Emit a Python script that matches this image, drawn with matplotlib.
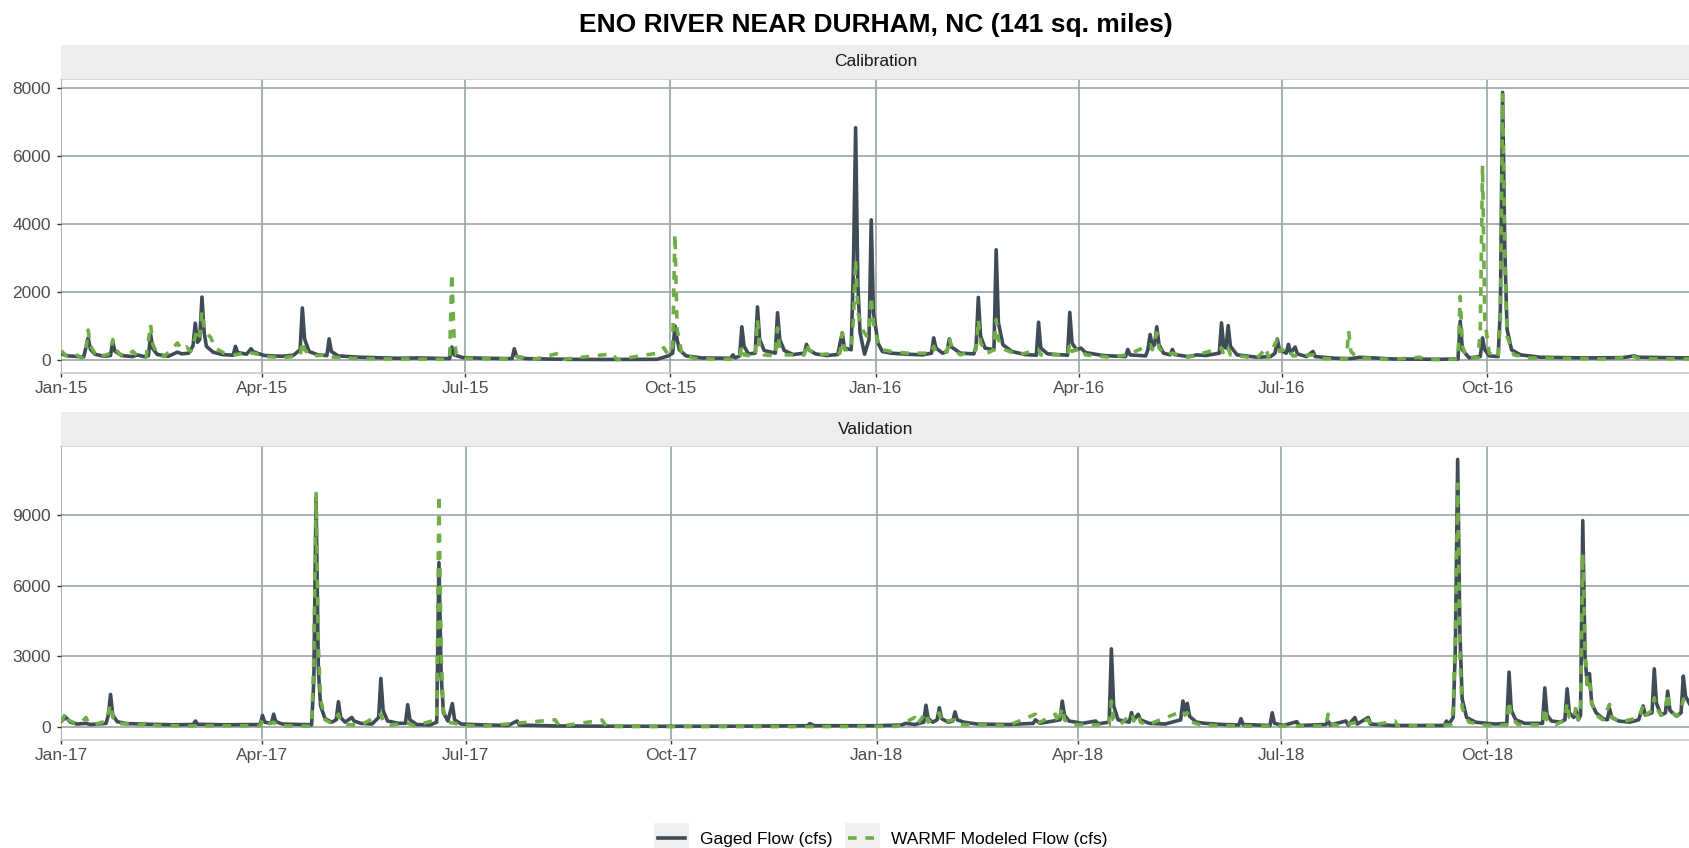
import matplotlib
matplotlib.use("Agg")
import matplotlib.pyplot as plt
import matplotlib.dates as mdates
import numpy as np
import pandas as pd
from matplotlib.patches import Rectangle
from matplotlib.legend_handler import HandlerLine2D

plt.rcParams['font.family'] = ['Liberation Sans', 'DejaVu Sans']

title = "ENO RIVER NEAR DURHAM, NC (141 sq. miles)"
panels = ["Calibration", "Validation"]
series_names = ["Gaged Flow (cfs)", "WARMF Modeled Flow (cfs)"]

# daily flow (cfs) at the turning points of each event
cal_gaged = [
    ("2015-01-01", 180), ("2015-01-04", 120), ("2015-01-11", 90), ("2015-01-13", 650), ("2015-01-14", 320),
    ("2015-01-16", 170), ("2015-01-20", 110), ("2015-01-23", 130), ("2015-01-24", 520), ("2015-01-25", 260),
    ("2015-01-28", 130), ("2015-02-02", 100), ("2015-02-04", 150), ("2015-02-07", 100), ("2015-02-09", 120),
    ("2015-02-10", 750), ("2015-02-11", 330), ("2015-02-13", 160), ("2015-02-18", 110), ("2015-02-22", 230),
    ("2015-02-24", 180), ("2015-02-27", 200), ("2015-03-01", 420), ("2015-03-02", 1080), ("2015-03-03", 520),
    ("2015-03-04", 600), ("2015-03-05", 1850), ("2015-03-06", 800), ("2015-03-07", 400), ("2015-03-10", 230),
    ("2015-03-14", 160), ("2015-03-19", 140), ("2015-03-20", 400), ("2015-03-21", 220), ("2015-03-25", 170),
    ("2015-03-27", 330), ("2015-03-28", 240), ("2015-04-02", 130), ("2015-04-10", 110), ("2015-04-15", 140),
    ("2015-04-18", 300), ("2015-04-19", 1530), ("2015-04-20", 620), ("2015-04-22", 250), ("2015-04-26", 150),
    ("2015-04-30", 130), ("2015-05-01", 620), ("2015-05-02", 250), ("2015-05-05", 120), ("2015-05-15", 80),
    ("2015-06-01", 50), ("2015-06-10", 60), ("2015-06-24", 40), ("2015-06-25", 380), ("2015-06-26", 150),
    ("2015-06-30", 70), ("2015-07-10", 50), ("2015-07-22", 40), ("2015-07-23", 330), ("2015-07-24", 110),
    ("2015-07-28", 40), ("2015-08-15", 20), ("2015-09-01", 15), ("2015-09-25", 20), ("2015-09-30", 120),
    ("2015-10-02", 200), ("2015-10-03", 1000), ("2015-10-04", 600), ("2015-10-05", 300), ("2015-10-08", 120),
    ("2015-10-15", 60), ("2015-10-28", 50), ("2015-10-29", 150), ("2015-10-30", 60), ("2015-11-01", 120),
    ("2015-11-02", 975), ("2015-11-03", 400), ("2015-11-05", 180), ("2015-11-08", 200), ("2015-11-09", 1560),
    ("2015-11-10", 600), ("2015-11-12", 280), ("2015-11-17", 200), ("2015-11-18", 1390), ("2015-11-19", 600),
    ("2015-11-21", 280), ("2015-11-25", 160), ("2015-11-30", 200), ("2015-12-01", 460), ("2015-12-02", 300),
    ("2015-12-05", 180), ("2015-12-10", 130), ("2015-12-15", 160), ("2015-12-17", 800), ("2015-12-18", 350),
    ("2015-12-21", 300), ("2015-12-22", 2700), ("2015-12-23", 6830), ("2015-12-24", 2200), ("2015-12-25", 800),
    ("2015-12-27", 170), ("2015-12-29", 600), ("2015-12-30", 4120), ("2015-12-31", 1400), ("2016-01-02", 500),
    ("2016-01-04", 250), ("2016-01-08", 200), ("2016-01-15", 170), ("2016-01-22", 150), ("2016-01-26", 200),
    ("2016-01-27", 650), ("2016-01-28", 350), ("2016-01-31", 200), ("2016-02-02", 250), ("2016-02-03", 620),
    ("2016-02-04", 380), ("2016-02-08", 200), ("2016-02-14", 180), ("2016-02-15", 400), ("2016-02-16", 1840),
    ("2016-02-17", 700), ("2016-02-19", 350), ("2016-02-23", 300), ("2016-02-24", 3240), ("2016-02-25", 1100),
    ("2016-02-27", 450), ("2016-03-02", 250), ("2016-03-08", 160), ("2016-03-13", 140), ("2016-03-14", 1110),
    ("2016-03-15", 350), ("2016-03-18", 180), ("2016-03-27", 140), ("2016-03-28", 1400), ("2016-03-29", 500),
    ("2016-03-31", 300), ("2016-04-02", 350), ("2016-04-04", 220), ("2016-04-12", 130), ("2016-04-22", 100),
    ("2016-04-23", 310), ("2016-04-24", 150), ("2016-05-01", 120), ("2016-05-02", 300), ("2016-05-03", 750),
    ("2016-05-04", 400), ("2016-05-05", 450), ("2016-05-06", 975), ("2016-05-07", 450), ("2016-05-09", 200),
    ("2016-05-12", 150), ("2016-05-13", 310), ("2016-05-14", 160), ("2016-05-20", 100), ("2016-05-24", 150),
    ("2016-05-28", 130), ("2016-06-03", 200), ("2016-06-04", 1090), ("2016-06-05", 400), ("2016-06-06", 350),
    ("2016-06-07", 1010), ("2016-06-08", 400), ("2016-06-11", 150), ("2016-06-20", 80), ("2016-06-26", 100),
    ("2016-06-28", 200), ("2016-06-29", 620), ("2016-06-30", 300), ("2016-07-03", 200), ("2016-07-04", 460),
    ("2016-07-05", 200), ("2016-07-07", 380), ("2016-07-08", 180), ("2016-07-12", 100), ("2016-07-15", 250),
    ("2016-07-16", 100), ("2016-07-25", 50), ("2016-08-01", 40), ("2016-08-05", 80), ("2016-08-20", 30),
    ("2016-09-10", 20), ("2016-09-18", 30), ("2016-09-19", 1140), ("2016-09-20", 300), ("2016-09-23", 60),
    ("2016-09-28", 100), ("2016-09-29", 650), ("2016-09-30", 300), ("2016-10-02", 120), ("2016-10-06", 100),
    ("2016-10-07", 1500), ("2016-10-08", 7870), ("2016-10-09", 3200), ("2016-10-10", 900), ("2016-10-12", 300),
    ("2016-10-16", 150), ("2016-10-25", 80), ("2016-11-15", 60), ("2016-12-01", 70), ("2016-12-06", 120),
    ("2016-12-08", 80), ("2016-12-31", 60),
]

cal_model = [
    ("2015-01-01", 270), ("2015-01-03", 120), ("2015-01-07", 180), ("2015-01-10", 60), ("2015-01-12", 300),
    ("2015-01-13", 880), ("2015-01-14", 420), ("2015-01-16", 200), ("2015-01-18", 260), ("2015-01-20", 120),
    ("2015-01-23", 200), ("2015-01-24", 600), ("2015-01-25", 350), ("2015-01-27", 180), ("2015-01-30", 100),
    ("2015-02-02", 260), ("2015-02-04", 120), ("2015-02-08", 80), ("2015-02-10", 1040), ("2015-02-11", 450),
    ("2015-02-13", 180), ("2015-02-16", 100), ("2015-02-20", 350), ("2015-02-22", 500), ("2015-02-24", 300),
    ("2015-02-26", 380), ("2015-02-28", 250), ("2015-03-03", 900), ("2015-03-04", 700), ("2015-03-05", 1430),
    ("2015-03-06", 900), ("2015-03-09", 650), ("2015-03-11", 350), ("2015-03-15", 200), ("2015-03-20", 150),
    ("2015-03-25", 220), ("2015-03-28", 200), ("2015-04-03", 100), ("2015-04-10", 70), ("2015-04-18", 120),
    ("2015-04-19", 550), ("2015-04-20", 300), ("2015-04-23", 120), ("2015-05-01", 150), ("2015-05-03", 80),
    ("2015-05-15", 40), ("2015-06-01", 30), ("2015-06-24", 20), ("2015-06-25", 2550), ("2015-06-26", 700),
    ("2015-06-27", 150), ("2015-07-01", 50), ("2015-07-23", 30), ("2015-07-24", 100), ("2015-08-01", 20),
    ("2015-08-12", 200), ("2015-08-14", 20), ("2015-09-05", 180), ("2015-09-07", 10), ("2015-09-25", 200),
    ("2015-09-28", 360), ("2015-09-30", 150), ("2015-10-02", 400), ("2015-10-03", 3700), ("2015-10-04", 900),
    ("2015-10-06", 200), ("2015-10-12", 40), ("2015-10-30", 20), ("2015-11-01", 100), ("2015-11-02", 420),
    ("2015-11-03", 150), ("2015-11-08", 100), ("2015-11-09", 1190), ("2015-11-10", 400), ("2015-11-12", 150),
    ("2015-11-17", 120), ("2015-11-18", 945), ("2015-11-19", 350), ("2015-11-21", 150), ("2015-11-30", 150),
    ("2015-12-01", 500), ("2015-12-02", 300), ("2015-12-05", 150), ("2015-12-16", 200), ("2015-12-17", 800),
    ("2015-12-18", 300), ("2015-12-21", 300), ("2015-12-22", 1200), ("2015-12-23", 2950), ("2015-12-24", 1400),
    ("2015-12-26", 900), ("2015-12-28", 700), ("2015-12-29", 900), ("2015-12-30", 1870), ("2015-12-31", 1100),
    ("2016-01-02", 500), ("2016-01-04", 300), ("2016-01-08", 250), ("2016-01-15", 200), ("2016-01-26", 200),
    ("2016-01-27", 400), ("2016-01-28", 250), ("2016-02-02", 250), ("2016-02-03", 650), ("2016-02-04", 350),
    ("2016-02-08", 150), ("2016-02-15", 300), ("2016-02-16", 1190), ("2016-02-17", 500), ("2016-02-20", 200),
    ("2016-02-23", 300), ("2016-02-24", 1190), ("2016-02-25", 600), ("2016-02-28", 300), ("2016-03-05", 150),
    ("2016-03-14", 300), ("2016-03-15", 150), ("2016-03-27", 150), ("2016-03-28", 500), ("2016-03-29", 250),
    ("2016-04-02", 350), ("2016-04-04", 150), ("2016-04-15", 80), ("2016-04-23", 150), ("2016-05-03", 450),
    ("2016-05-04", 300), ("2016-05-06", 800), ("2016-05-07", 350), ("2016-05-10", 150), ("2016-05-13", 200),
    ("2016-05-20", 80), ("2016-06-04", 350), ("2016-06-05", 150), ("2016-06-07", 350), ("2016-06-08", 150),
    ("2016-06-20", 50), ("2016-06-24", 360), ("2016-06-25", 80), ("2016-06-29", 600), ("2016-06-30", 250),
    ("2016-07-04", 350), ("2016-07-06", 120), ("2016-07-15", 150), ("2016-07-20", 40), ("2016-07-30", 30),
    ("2016-07-31", 850), ("2016-08-01", 250), ("2016-08-04", 60), ("2016-08-20", 20), ("2016-09-01", 80),
    ("2016-09-03", 10), ("2016-09-18", 30), ("2016-09-19", 1870), ("2016-09-20", 400), ("2016-09-22", 60),
    ("2016-09-27", 60), ("2016-09-28", 900), ("2016-09-29", 5720), ("2016-09-30", 1200), ("2016-10-02", 200),
    ("2016-10-06", 80), ("2016-10-07", 1200), ("2016-10-08", 7800), ("2016-10-09", 2800), ("2016-10-10", 700),
    ("2016-10-13", 150), ("2016-10-20", 60), ("2016-11-25", 30), ("2016-12-06", 100), ("2016-12-08", 40),
    ("2016-12-31", 30),
]

val_gaged = [
    ("2017-01-01", 250), ("2017-01-03", 400), ("2017-01-05", 200), ("2017-01-08", 120), ("2017-01-12", 150),
    ("2017-01-14", 100), ("2017-01-21", 150), ("2017-01-22", 500), ("2017-01-23", 1380), ("2017-01-24", 500),
    ("2017-01-26", 220), ("2017-01-30", 140), ("2017-02-10", 110), ("2017-02-20", 90), ("2017-03-01", 100),
    ("2017-03-02", 250), ("2017-03-03", 110), ("2017-03-15", 90), ("2017-03-31", 100), ("2017-04-01", 490),
    ("2017-04-02", 200), ("2017-04-05", 150), ("2017-04-06", 540), ("2017-04-07", 220), ("2017-04-10", 120),
    ("2017-04-23", 90), ("2017-04-24", 2000), ("2017-04-25", 9750), ("2017-04-26", 2500), ("2017-04-27", 900),
    ("2017-04-29", 350), ("2017-05-02", 200), ("2017-05-04", 300), ("2017-05-05", 1070), ("2017-05-06", 400),
    ("2017-05-08", 200), ("2017-05-11", 400), ("2017-05-12", 250), ("2017-05-15", 150), ("2017-05-20", 120),
    ("2017-05-23", 400), ("2017-05-24", 2060), ("2017-05-25", 700), ("2017-05-27", 250), ("2017-06-01", 150),
    ("2017-06-04", 150), ("2017-06-05", 945), ("2017-06-06", 300), ("2017-06-09", 100), ("2017-06-15", 80),
    ("2017-06-18", 200), ("2017-06-19", 7000), ("2017-06-20", 2200), ("2017-06-21", 600), ("2017-06-23", 250),
    ("2017-06-25", 990), ("2017-06-26", 300), ("2017-06-29", 120), ("2017-07-10", 80), ("2017-07-20", 60),
    ("2017-07-24", 250), ("2017-07-25", 80), ("2017-08-10", 40), ("2017-09-01", 30), ("2017-10-01", 25),
    ("2017-11-01", 30), ("2017-12-01", 50), ("2017-12-02", 140), ("2017-12-04", 50), ("2018-01-01", 50),
    ("2018-01-12", 80), ("2018-01-14", 150), ("2018-01-18", 100), ("2018-01-22", 200), ("2018-01-23", 920),
    ("2018-01-24", 350), ("2018-01-26", 200), ("2018-01-28", 300), ("2018-01-29", 820), ("2018-01-30", 350),
    ("2018-02-02", 200), ("2018-02-04", 250), ("2018-02-05", 640), ("2018-02-06", 300), ("2018-02-09", 200),
    ("2018-02-15", 120), ("2018-03-01", 100), ("2018-03-12", 150), ("2018-03-13", 300), ("2018-03-15", 150),
    ("2018-03-24", 300), ("2018-03-25", 1100), ("2018-03-26", 500), ("2018-03-28", 250), ("2018-04-03", 150),
    ("2018-04-09", 250), ("2018-04-10", 130), ("2018-04-15", 200), ("2018-04-16", 3320), ("2018-04-17", 900),
    ("2018-04-19", 300), ("2018-04-24", 200), ("2018-04-25", 610), ("2018-04-26", 300), ("2018-04-28", 540),
    ("2018-04-29", 300), ("2018-05-03", 150), ("2018-05-10", 120), ("2018-05-17", 300), ("2018-05-18", 1100),
    ("2018-05-19", 700), ("2018-05-20", 1000), ("2018-05-21", 450), ("2018-05-24", 200), ("2018-05-28", 150),
    ("2018-06-05", 100), ("2018-06-12", 80), ("2018-06-13", 350), ("2018-06-14", 100), ("2018-06-26", 60),
    ("2018-06-27", 600), ("2018-06-28", 150), ("2018-07-02", 60), ("2018-07-08", 220), ("2018-07-09", 60),
    ("2018-07-21", 100), ("2018-07-22", 250), ("2018-07-23", 80), ("2018-07-30", 250), ("2018-07-31", 80),
    ("2018-08-03", 400), ("2018-08-04", 120), ("2018-08-09", 400), ("2018-08-10", 120), ("2018-08-20", 60),
    ("2018-09-12", 60), ("2018-09-13", 250), ("2018-09-14", 100), ("2018-09-16", 400), ("2018-09-17", 3500),
    ("2018-09-18", 11390), ("2018-09-19", 4000), ("2018-09-20", 1200), ("2018-09-22", 400), ("2018-09-26", 200),
    ("2018-10-01", 150), ("2018-10-05", 120), ("2018-10-10", 150), ("2018-10-11", 2330), ("2018-10-12", 700),
    ("2018-10-14", 300), ("2018-10-18", 150), ("2018-10-26", 150), ("2018-10-27", 1660), ("2018-10-28", 500),
    ("2018-10-30", 250), ("2018-11-03", 200), ("2018-11-05", 300), ("2018-11-06", 1620), ("2018-11-07", 600),
    ("2018-11-09", 400), ("2018-11-10", 700), ("2018-11-11", 300), ("2018-11-12", 500), ("2018-11-13", 8780),
    ("2018-11-14", 3000), ("2018-11-15", 1800), ("2018-11-16", 2270), ("2018-11-17", 1000), ("2018-11-19", 600),
    ("2018-11-22", 350), ("2018-11-24", 300), ("2018-11-25", 775), ("2018-11-26", 400), ("2018-11-29", 250),
    ("2018-12-04", 200), ("2018-12-08", 300), ("2018-12-10", 890), ("2018-12-11", 500), ("2018-12-14", 600),
    ("2018-12-15", 2470), ("2018-12-16", 1000), ("2018-12-18", 500), ("2018-12-20", 600), ("2018-12-21", 1520),
    ("2018-12-22", 700), ("2018-12-25", 450), ("2018-12-27", 600), ("2018-12-28", 2160), ("2018-12-29", 1300),
    ("2018-12-31", 950),
]

val_model = [
    ("2017-01-01", 200), ("2017-01-03", 610), ("2017-01-04", 300), ("2017-01-07", 150), ("2017-01-10", 200),
    ("2017-01-12", 400), ("2017-01-13", 200), ("2017-01-16", 100), ("2017-01-21", 250), ("2017-01-23", 960),
    ("2017-01-24", 400), ("2017-01-26", 150), ("2017-02-05", 80), ("2017-02-10", 210), ("2017-02-12", 60),
    ("2017-03-01", 40), ("2017-03-31", 50), ("2017-04-01", 300), ("2017-04-03", 100), ("2017-04-06", 200),
    ("2017-04-08", 50), ("2017-04-23", 30), ("2017-04-24", 3000), ("2017-04-25", 9940), ("2017-04-26", 3500),
    ("2017-04-27", 1200), ("2017-04-29", 300), ("2017-05-02", 150), ("2017-05-05", 540), ("2017-05-06", 250),
    ("2017-05-09", 100), ("2017-05-15", 80), ("2017-05-24", 540), ("2017-05-25", 250), ("2017-05-28", 80),
    ("2017-06-05", 150), ("2017-06-08", 50), ("2017-06-18", 300), ("2017-06-19", 9880), ("2017-06-20", 3000),
    ("2017-06-21", 700), ("2017-06-23", 200), ("2017-06-26", 150), ("2017-06-30", 60), ("2017-07-10", 40),
    ("2017-08-10", 300), ("2017-08-12", 20), ("2017-08-31", 290), ("2017-09-02", 15), ("2017-12-01", 10),
    ("2018-01-10", 20), ("2018-01-18", 400), ("2018-01-19", 100), ("2018-01-23", 610), ("2018-01-24", 200),
    ("2018-01-29", 600), ("2018-01-30", 200), ("2018-02-05", 300), ("2018-02-06", 100), ("2018-03-01", 60),
    ("2018-03-13", 540), ("2018-03-14", 150), ("2018-03-22", 540), ("2018-03-23", 150), ("2018-03-25", 820),
    ("2018-03-26", 300), ("2018-03-29", 100), ("2018-04-15", 80), ("2018-04-16", 1100), ("2018-04-17", 300),
    ("2018-04-20", 100), ("2018-04-25", 580), ("2018-04-26", 250), ("2018-04-28", 540), ("2018-04-29", 200),
    ("2018-05-02", 80), ("2018-05-18", 680), ("2018-05-19", 500), ("2018-05-20", 600), ("2018-05-22", 200),
    ("2018-05-26", 80), ("2018-06-15", 30), ("2018-07-21", 40), ("2018-07-22", 540), ("2018-07-23", 150),
    ("2018-07-27", 40), ("2018-08-09", 300), ("2018-08-10", 60), ("2018-08-21", 250), ("2018-08-22", 30),
    ("2018-09-15", 80), ("2018-09-16", 800), ("2018-09-17", 4000), ("2018-09-18", 10340), ("2018-09-19", 3000),
    ("2018-09-20", 800), ("2018-09-23", 200), ("2018-10-01", 60), ("2018-10-10", 80), ("2018-10-11", 1100),
    ("2018-10-12", 400), ("2018-10-15", 100), ("2018-10-26", 80), ("2018-10-27", 820), ("2018-10-28", 300),
    ("2018-11-01", 100), ("2018-11-05", 300), ("2018-11-06", 1030), ("2018-11-07", 400), ("2018-11-09", 300),
    ("2018-11-10", 880), ("2018-11-11", 300), ("2018-11-12", 800), ("2018-11-13", 7370), ("2018-11-14", 3200),
    ("2018-11-15", 1800), ("2018-11-16", 2020), ("2018-11-17", 1000), ("2018-11-19", 500), ("2018-11-22", 300),
    ("2018-11-25", 960), ("2018-11-26", 400), ("2018-11-30", 200), ("2018-12-08", 400), ("2018-12-10", 890),
    ("2018-12-11", 500), ("2018-12-14", 700), ("2018-12-15", 1240), ("2018-12-16", 800), ("2018-12-18", 500),
    ("2018-12-20", 700), ("2018-12-21", 1450), ("2018-12-22", 700), ("2018-12-25", 450), ("2018-12-27", 700),
    ("2018-12-28", 1170), ("2018-12-29", 1000), ("2018-12-31", 1100),
]

x_ranges = [("2015-01-01", "2016-12-31"), ("2017-01-01", "2018-12-31")]
y_breaks = [[0, 2000, 4000, 6000, 8000], [0, 3000, 6000, 9000]]

gaged_color = '#3F4C57'
model_color = '#70AD47'
grid_color = '#9AA59F'
strip_color = '#EDEDEB'


def to_frame(pairs):
    df = pd.DataFrame(pairs, columns=['date', 'flow'])
    df['date'] = pd.to_datetime(df['date'])
    return df


class KeyBox(HandlerLine2D):
    # ggplot-like legend key: grey square behind the line sample
    def create_artists(self, legend, orig_handle, xdescent, ydescent, width, height, fontsize, trans):
        arts = super().create_artists(legend, orig_handle, xdescent, ydescent, width, height, fontsize, trans)
        bg = Rectangle((-xdescent - 2.5, -ydescent - 5.5), width + 5, height + 11,
                       facecolor='#F0F0F0', edgecolor='none', transform=trans)
        return [bg] + list(arts)


fig = plt.figure(figsize=(16.9, 8.48), dpi=100)
W, H = 1690, 848
left = 61.4 / W
width = 1 - left
panel_boxes = [(79, 373), (446, 740)]
strip_h = 34

data = [(cal_gaged, cal_model), (val_gaged, val_model)]
handles = []
for i, (top, bot) in enumerate(panel_boxes):
    ax = fig.add_axes([left, 1 - bot / H, width, (bot - top) / H])
    g = to_frame(data[i][0])
    m = to_frame(data[i][1])
    l1, = ax.plot(g['date'], g['flow'], color=gaged_color, lw=2.6, solid_joinstyle='round', zorder=3)
    l2, = ax.plot(m['date'], m['flow'], color=model_color, lw=2.6, dashes=(2.4, 2.4), zorder=4)
    handles = [l1, l2]

    lo = min(g['flow'].min(), m['flow'].min())
    hi = max(g['flow'].max(), m['flow'].max())
    span = hi - lo
    ax.set_ylim(lo - 0.05 * span, hi + 0.05 * span)
    ax.set_xlim(pd.Timestamp(x_ranges[i][0]), pd.Timestamp(x_ranges[i][1]))
    ax.set_yticks(y_breaks[i])
    ax.xaxis.set_major_locator(mdates.MonthLocator(bymonth=[1, 4, 7, 10]))
    ax.xaxis.set_major_formatter(mdates.DateFormatter('%b-%y'))

    ax.grid(True, color=grid_color, lw=1.2)
    ax.set_axisbelow(True)
    for s in ['left', 'right']:
        ax.spines[s].set_visible(False)
    for s in ['top', 'bottom']:
        ax.spines[s].set_color('#C9D0CC')
        ax.spines[s].set_linewidth(1.2)
    ax.tick_params(axis='both', length=3, width=1, color='#333333', labelcolor='#4D4D4D', labelsize=12.5)
    ax.tick_params(axis='x', pad=3)
    ax.tick_params(axis='y', pad=4.5)

    # facet strip
    sax = fig.add_axes([left, 1 - top / H, width, strip_h / H])
    sax.set_facecolor(strip_color)
    sax.set_xticks([])
    sax.set_yticks([])
    for s in sax.spines.values():
        s.set_visible(False)
    sax.text(0.5, 0.5, panels[i], ha='center', va='center', fontsize=12.5, color='#1A1A1A',
             transform=sax.transAxes)

fig.text((left + 1) / 2, 1 - 31.7 / H, title, ha='center', va='baseline', fontsize=19, fontweight='bold')

fig.legend(handles, series_names, loc='center', bbox_to_anchor=((left + 1) / 2 + 0.004, 1 - 839 / H),
           ncol=2, frameon=False, fontsize=12.5, handlelength=1.6, handleheight=0.9,
           handletextpad=0.85, columnspacing=0.9, borderpad=0.1,
           handler_map={h: KeyBox() for h in handles})

fig.savefig("out.png", dpi=100)
